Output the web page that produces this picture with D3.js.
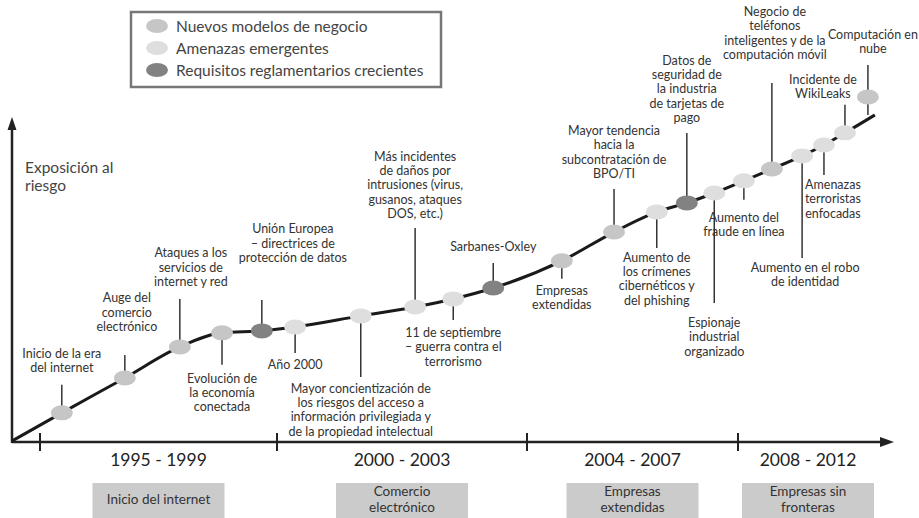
<!DOCTYPE html>
<html>
<head>
<meta charset="utf-8">
<script src="https://cdn.jsdelivr.net/npm/d3@7"></script>
<style>
  body { margin: 0; background: #fff; }
  text { font-family: Lato, "Open Sans", sans-serif; fill: #333; }
</style>
</head>
<body>
<div id="chart"></div>
<script>
// Chart data
const categories = ["Nuevos modelos de negocio", "Amenazas emergentes", "Requisitos reglamentarios crecientes"];
const catColors = ["#c6c6c6", "#dedede", "#828282"];

const periodBounds = [1995, 2000, 2004, 2008, 2013];
const periodLabels = ["1995 - 1999", "2000 - 2003", "2004 - 2007", "2008 - 2012"];
const eraLabels = [["Inicio del internet"], ["Comercio", "electrónico"], ["Empresas", "extendidas"], ["Empresas sin", "fronteras"]];

// events: label lines, year (position on the timeline), exposure value, category index
const eventLabels = [
  ["Inicio de la era", "del internet"],
  ["Auge del", "comercio", "electrónico"],
  ["Ataques a los", "servicios de", "internet y red"],
  ["Evolución de", "la economía", "conectada"],
  ["Unión Europea", "– directrices de", "protección de datos"],
  ["Año 2000"],
  ["Mayor concientización de", "los riesgos del acceso a", "información privilegiada y", "de la propiedad intelectual"],
  ["Más incidentes", "de daños por", "intrusiones (virus,", "gusanos, ataques", "DOS, etc.)"],
  ["11 de septiembre", "– guerra contra el", "terrorismo"],
  ["Sarbanes-Oxley"],
  ["Empresas", "extendidas"],
  ["Mayor tendencia", "hacia la", "subcontratación de", "BPO/TI"],
  ["Aumento de", "los crímenes", "cibernéticos y", "del phishing"],
  ["Datos de", "seguridad de", "la industria", "de tarjetas de", "pago"],
  ["Espionaje", "industrial", "organizado"],
  ["Aumento del", "fraude en línea"],
  ["Negocio de", "teléfonos", "inteligentes y de la", "computación móvil"],
  ["Aumento en el robo", "de identidad"],
  ["Amenazas", "terroristas", "enfocadas"],
  ["Incidente de", "WikiLeaks"],
  ["Computación en", "nube"]
];
const eventYears = [1995.46, 1996.79, 1997.95, 1998.84, 1999.68, 2000.29, 2001.34, 2002.21, 2002.82, 2003.46,
  2004.66, 2005.65, 2006.46, 2007.03, 2007.55, 2008.21, 2009.21, 2010.29, 2011.07, 2011.82, 2012.64];
const eventValues = [8.8, 19.7, 29.4, 33.8, 34.4, 35.6, 39.1, 41.9, 44.4, 47.8,
  56.3, 65.3, 71.6, 74.4, 77.5, 81.3, 85.0, 89.1, 92.5, 96.3, 107.5];
const eventCats = [0, 0, 0, 0, 2, 1, 1, 1, 1, 2, 0, 0, 1, 2, 1, 1, 0, 1, 1, 1, 0];
// the curve: starts at the origin and ends past the last event on the line
const curveStart = [1994.4, 0];
const curveEnd = [2012.89, 101.9];

// Layout of leader lines / labels (px): direction, leader length, gap to text, text x shift
const leaderDir = ["up", "up", "up", "down", "up", "down", "down", "up", "down", "up",
  "down", "up", "down", "up", "down", "down", "up", "down", "down", "up", "up"];
const leaderLen = [28, 23, 48, 32, 31, 26, 61, 79, 21, 25, 18, 43, 36, 70, 110, 19, 86, 102, 30, 28, 32];
const labelGap = [13, 24, 13, 18, 38, 16, 16, 10, 17, 12, 16, 11, 14, 11, 24, 22, 24, 14, 14, 7, 12];
const labelDx = [0, 2, 11, 0, 31, 0, 0, 0, 0, 0, 0, 0, 0, 0, 0, 0, 3, 3, 9, -22, 5];

const W = 919, H = 518;
const lineH = 14.3;

const svg = d3.select("#chart").append("svg")
  .attr("width", W)
  .attr("height", H);

// piecewise timeline scale (periods have different widths)
const x = d3.scaleLinear()
  .domain([curveStart[0], ...periodBounds])
  .range([12, 40, 277, 527, 738, 878]);

const y = d3.scaleLinear()
  .domain([0, 100])
  .range([441, 121]);

// Legend
const legend = svg.append("g");
legend.append("rect")
  .attr("x", 131).attr("y", 12)
  .attr("width", 310).attr("height", 75)
  .attr("fill", "#fff")
  .attr("stroke", "#777")
  .attr("stroke-width", 2.5);
categories.forEach((c, i) => {
  legend.append("ellipse")
    .attr("cx", 157).attr("cy", 26 + i * 22)
    .attr("rx", 11).attr("ry", 7)
    .attr("fill", catColors[i]);
  legend.append("text")
    .attr("x", 176).attr("y", 31.5 + i * 22)
    .style("font-size", "15.5px")
    .style("fill", "#444")
    .text(c);
});

// Axes with arrowheads
const x0 = x(curveStart[0]), y0 = y(0);
const xEnd = x(periodBounds[periodBounds.length - 1]) + 4;
svg.append("line")
  .attr("x1", x0).attr("y1", y0 + 1)
  .attr("x2", xEnd).attr("y2", y0 + 1)
  .attr("stroke", "#222").attr("stroke-width", 2.5);
svg.append("path")
  .attr("d", `M${xEnd - 2},${y0 - 4} L${xEnd + 12},${y0 + 1} L${xEnd - 2},${y0 + 6} Z`)
  .attr("fill", "#222");
svg.append("line")
  .attr("x1", x0).attr("y1", y0 + 2)
  .attr("x2", x0).attr("y2", y(100) + 8)
  .attr("stroke", "#222").attr("stroke-width", 2.5);
svg.append("path")
  .attr("d", `M${x0 - 4.5},${y(100) + 9} L${x0},${y(100) - 4} L${x0 + 4.5},${y(100) + 9} Z`)
  .attr("fill", "#222");

// period ticks
svg.selectAll(".ptick")
  .data(periodBounds.slice(0, 4))
  .join("line")
  .attr("class", "ptick")
  .attr("x1", d => x(d)).attr("x2", d => x(d))
  .attr("y1", y0 - 8).attr("y2", y0 + 10)
  .attr("stroke", "#222").attr("stroke-width", 2);

// period labels and era boxes
periodLabels.forEach((p, i) => {
  const cx = (x(periodBounds[i]) + x(periodBounds[i + 1])) / 2;
  svg.append("text")
    .attr("x", cx).attr("y", 465.5)
    .attr("text-anchor", "middle")
    .style("font-size", "17.5px")
    .style("fill", "#222")
    .text(p);
  svg.append("rect")
    .attr("x", cx - 66).attr("y", 483)
    .attr("width", 132).attr("height", 40)
    .attr("fill", "#cbcbcb");
  const lines = eraLabels[i];
  const t = svg.append("text")
    .attr("text-anchor", "middle")
    .style("font-size", "13.5px")
    .style("fill", "#333");
  lines.forEach((l, j) => {
    t.append("tspan")
      .attr("x", cx)
      .attr("y", (lines.length === 1 ? 504 : 496) + j * 16)
      .text(l);
  });
});

// y axis title
const yt = svg.append("text")
  .style("font-size", "15.5px")
  .style("fill", "#444");
yt.append("tspan").attr("x", 25).attr("y", 173).text("Exposición al");
yt.append("tspan").attr("x", 25).attr("y", 191).text("riesgo");

// events table
const events = eventLabels.map((lab, i) => ({
  lab, year: eventYears[i], value: eventValues[i], cat: eventCats[i],
  dir: leaderDir[i], len: leaderLen[i], gap: labelGap[i], dx: labelDx[i]
}));

// leader lines
const leaders = svg.append("g");
events.forEach((d, i) => {
  const px = x(d.year), py = y(d.value);
  const endY = d.dir === "up" ? py - d.len : py + d.len;
  leaders.append("line")
    .attr("x1", px).attr("x2", px)
    .attr("y1", py).attr("y2", endY)
    .attr("stroke", "#333").attr("stroke-width", 1.5);
  // text
  const t = svg.append("text")
    .attr("text-anchor", "middle")
    .style("font-size", "12.5px");
  const n = d.lab.length;
  d.lab.forEach((l, j) => {
    const ty = d.dir === "up"
      ? endY - d.gap - (n - 1 - j) * lineH
      : endY + d.gap + j * lineH;
    t.append("tspan").attr("x", px + d.dx).attr("y", ty).text(l);
  });
});

// last event sits above the line: its leader continues down to the line end
const last = events[events.length - 1];
leaders.append("line")
  .attr("x1", x(last.year)).attr("x2", x(last.year))
  .attr("y1", y(last.value)).attr("y2", y(curveEnd[1]))
  .attr("stroke", "#333").attr("stroke-width", 1.5);

// the exposure curve
const curvePts = [curveStart, ...events.slice(0, -1).map(d => [d.year, d.value]), curveEnd];
const line = d3.line()
  .x(d => x(d[0]))
  .y(d => y(d[1]))
  .curve(d3.curveMonotoneX);

svg.append("path")
  .datum(curvePts)
  .attr("fill", "none")
  .attr("stroke", "#1a1a1a")
  .attr("stroke-width", 3)
  .attr("d", line);

// event markers
svg.selectAll(".marker")
  .data(events)
  .join("ellipse")
  .attr("class", "marker")
  .attr("cx", d => x(d.year))
  .attr("cy", d => y(d.value))
  .attr("rx", 11).attr("ry", 7.5)
  .attr("fill", d => catColors[d.cat]);
</script>
</body>
</html>
